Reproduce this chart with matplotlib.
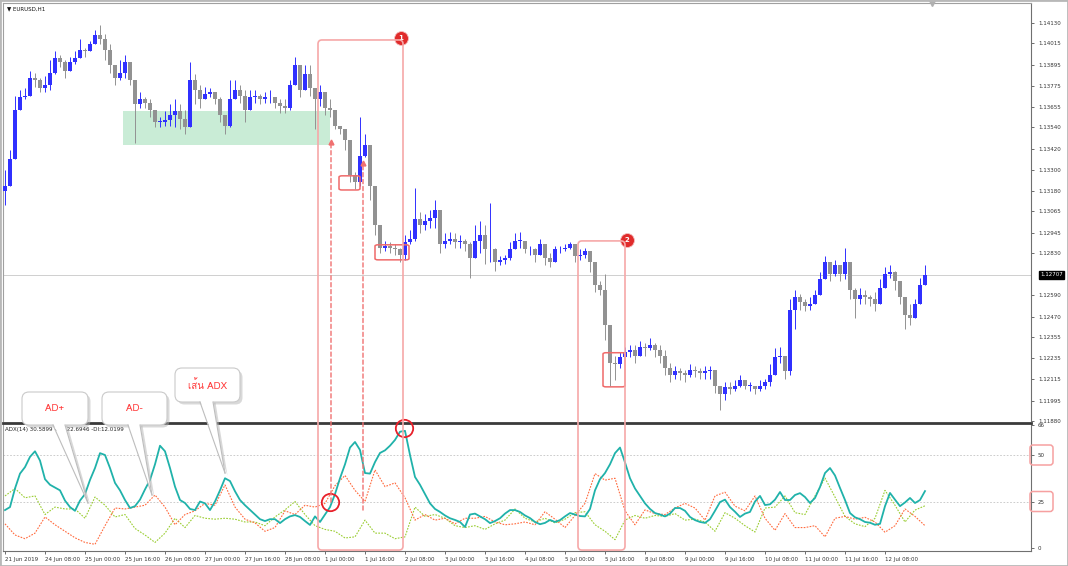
import numpy as np
import matplotlib
matplotlib.use('Agg')
import matplotlib.pyplot as plt
from matplotlib.patches import FancyBboxPatch, Polygon, Rectangle, ConnectionPatch
from matplotlib.lines import Line2D
from matplotlib.transforms import IdentityTransform, blended_transform_factory
from matplotlib import font_manager
from matplotlib.ft2font import FT2Font

# ---------------- data (EURUSD H1, sampled every 2 hours) ----------------
close = [1.1321, 1.1336, 1.1364, 1.1371, 1.1372, 1.1382, 1.1381, 1.1376, 1.1378, 1.1385,
         1.1393, 1.1391, 1.1386, 1.1391, 1.1393, 1.1398, 1.1397, 1.1401, 1.1406, 1.1404,
         1.1398, 1.1389, 1.1382, 1.1385, 1.1391, 1.1381, 1.1367, 1.1370, 1.1368, 1.1364,
         1.1357, 1.1357, 1.1358, 1.1361, 1.1363, 1.1359, 1.1354, 1.1381, 1.1375, 1.1370,
         1.1373, 1.1374, 1.1370, 1.1361, 1.1355, 1.1370, 1.1375, 1.1372, 1.1364, 1.1371,
         1.1372, 1.1370, 1.1371, 1.1371, 1.1368, 1.1366, 1.1365, 1.1378, 1.1389, 1.1375,
         1.1384, 1.1376, 1.1370, 1.1374, 1.1365, 1.1364, 1.1355, 1.1353, 1.1347, 1.1327,
         1.1323, 1.1338, 1.1344, 1.1321, 1.1299, 1.1286, 1.1287, 1.1286, 1.1285, 1.1282,
         1.1289, 1.1291, 1.1302, 1.1299, 1.1301, 1.1303, 1.1307, 1.1288, 1.1290, 1.1291,
         1.1289, 1.1290, 1.1288, 1.1280, 1.1290, 1.1293, 1.1285, 1.1285, 1.1278, 1.1279,
         1.1280, 1.1285, 1.1290, 1.1290, 1.1285, 1.1285, 1.1282, 1.1288, 1.1280, 1.1278,
         1.1285, 1.1285, 1.1286, 1.1288, 1.1281, 1.1282, 1.1284, 1.1278, 1.1265, 1.1262,
         1.1242, 1.1221, 1.1220, 1.1224, 1.1227, 1.1228, 1.1225, 1.1230, 1.1229, 1.1231,
         1.1228, 1.1225, 1.1218, 1.1214, 1.1216, 1.1215, 1.1214, 1.1217, 1.1216, 1.1215,
         1.1216, 1.1217, 1.1208, 1.1203, 1.1207, 1.1206, 1.1208, 1.1211, 1.1208, 1.1208,
         1.1206, 1.1208, 1.1210, 1.1214, 1.1224, 1.1225, 1.1216, 1.1251, 1.1258, 1.1255,
         1.1253, 1.1254, 1.1259, 1.1268, 1.1278, 1.1271, 1.1276, 1.1271, 1.1278, 1.1262,
         1.1257, 1.1259, 1.1258, 1.1257, 1.1254, 1.1263, 1.1271, 1.1272, 1.1267, 1.1258,
         1.1248, 1.1246, 1.1254, 1.1265, 1.12707]
high = [1.1330, 1.1341, 1.1372, 1.1375, 1.1376, 1.1386, 1.1385, 1.1382, 1.1383, 1.1392,
        1.1397, 1.1395, 1.1392, 1.1394, 1.1397, 1.1404, 1.1399, 1.1403, 1.1409, 1.1412,
        1.1407, 1.1401, 1.1388, 1.1392, 1.1395, 1.1391, 1.1378, 1.1374, 1.1371, 1.1370,
        1.1364, 1.1360, 1.1363, 1.1367, 1.1370, 1.1367, 1.1364, 1.1391, 1.1384, 1.1378,
        1.1377, 1.1376, 1.1374, 1.1371, 1.1361, 1.1381, 1.1381, 1.1378, 1.1375, 1.1375,
        1.1375, 1.1373, 1.1374, 1.1375, 1.1371, 1.1370, 1.1370, 1.1381, 1.1394, 1.1388,
        1.1389, 1.1389, 1.1376, 1.1378, 1.1371, 1.1370, 1.1361, 1.1355, 1.1351, 1.1347,
        1.1329, 1.1360, 1.1350, 1.1341, 1.1310, 1.1290, 1.1290, 1.1289, 1.1288, 1.1286,
        1.1293, 1.1296, 1.1320, 1.1306, 1.1305, 1.1307, 1.1313, 1.1299, 1.1294, 1.1295,
        1.1294, 1.1293, 1.1291, 1.1289, 1.1299, 1.1301, 1.1299, 1.1311, 1.1286, 1.1281,
        1.1282, 1.1289, 1.1294, 1.1295, 1.1287, 1.1287, 1.1286, 1.1291, 1.1285, 1.1283,
        1.1287, 1.1287, 1.1288, 1.1289, 1.1285, 1.1285, 1.1286, 1.1282, 1.1275, 1.1267,
        1.1271, 1.1234, 1.1225, 1.1227, 1.1230, 1.1231, 1.1231, 1.1233, 1.1232, 1.1235,
        1.1232, 1.1231, 1.1228, 1.1221, 1.1219, 1.1218, 1.1217, 1.1220, 1.1219, 1.1218,
        1.1219, 1.1219, 1.1214, 1.1207, 1.1210, 1.1210, 1.1211, 1.1214, 1.1211, 1.1210,
        1.1208, 1.1211, 1.1212, 1.1220, 1.1229, 1.1230, 1.1225, 1.1257, 1.1262, 1.1260,
        1.1257, 1.1258, 1.1262, 1.1272, 1.1281, 1.1276, 1.1279, 1.1276, 1.1286, 1.1276,
        1.1263, 1.1263, 1.1262, 1.1259, 1.1261, 1.1268, 1.1275, 1.1276, 1.1273, 1.1265,
        1.1257, 1.1254, 1.1257, 1.1269, 1.1276]
low = [1.1310, 1.1324, 1.1344, 1.1367, 1.1370, 1.1372, 1.1377, 1.1374, 1.1374, 1.1375,
       1.1384, 1.1388, 1.1382, 1.1388, 1.1390, 1.1393, 1.1394, 1.1397, 1.1401, 1.1401,
       1.1392, 1.1385, 1.1378, 1.1381, 1.1382, 1.1378, 1.1345, 1.1365, 1.1365, 1.1360,
       1.1354, 1.1354, 1.1355, 1.1355, 1.1354, 1.1353, 1.1350, 1.1364, 1.1367, 1.1365,
       1.1370, 1.1371, 1.1367, 1.1357, 1.1350, 1.1354, 1.1370, 1.1368, 1.1357, 1.1367,
       1.1368, 1.1367, 1.1368, 1.1368, 1.1365, 1.1362, 1.1362, 1.1364, 1.1381, 1.1371,
       1.1375, 1.1372, 1.1353, 1.1366, 1.1361, 1.1360, 1.1353, 1.1350, 1.1341, 1.1323,
       1.1319, 1.1321, 1.1337, 1.1313, 1.1293, 1.1283, 1.1284, 1.1283, 1.1282, 1.1278,
       1.1279, 1.1288, 1.1290, 1.1294, 1.1296, 1.1297, 1.1297, 1.1283, 1.1286, 1.1288,
       1.1286, 1.1286, 1.1284, 1.1269, 1.1282, 1.1283, 1.1277, 1.1278, 1.1273, 1.1276,
       1.1277, 1.1279, 1.1286, 1.1286, 1.1283, 1.1282, 1.1278, 1.1284, 1.1276, 1.1275,
       1.1282, 1.1283, 1.1284, 1.1285, 1.1278, 1.1279, 1.1280, 1.1272, 1.1261, 1.1259,
       1.1234, 1.1208, 1.1211, 1.1218, 1.1224, 1.1224, 1.1221, 1.1225, 1.1225, 1.1228,
       1.1224, 1.1221, 1.1214, 1.1210, 1.1212, 1.1211, 1.1210, 1.1213, 1.1213, 1.1212,
       1.1212, 1.1212, 1.1204, 1.1194, 1.1200, 1.1203, 1.1205, 1.1207, 1.1206, 1.1205,
       1.1203, 1.1205, 1.1206, 1.1208, 1.1220, 1.1221, 1.1212, 1.1214, 1.1240, 1.1251,
       1.1250, 1.1251, 1.1255, 1.1259, 1.1272, 1.1267, 1.1270, 1.1267, 1.1268, 1.1257,
       1.1246, 1.1254, 1.1254, 1.1253, 1.1250, 1.1257, 1.1265, 1.1269, 1.1262, 1.1254,
       1.1240, 1.1242, 1.1248, 1.1257, 1.1268]
first_open = 1.1318

# ADX(14) main line, every 2 hours
adx = [20.4, 22, 32, 40, 43.5, 49, 52, 47, 37, 34, 32.5, 31, 25.5, 22, 20, 25.5, 29, 36.6, 43, 51,
       50, 43, 35, 31, 25.8, 21.5, 22.5, 26, 31.5, 36.6, 45, 55, 52, 43, 33, 25.8, 24.2, 21, 20.4, 25,
       24, 20.4, 25, 31, 37.5, 36, 30.5, 25.8, 23, 20.5, 18, 15.5, 14.5, 15.5, 15.5, 13.4, 15.5, 17, 17.7, 16.7,
       14.5, 12.4, 17, 14, 18, 22, 29, 37.5, 45, 54, 57, 52.7, 40.3, 40, 46.2, 51.1, 52.5, 55, 58.1, 62.5,
       63, 50, 38.2, 34, 29, 24, 21, 19.4, 17.5, 16, 15.1, 14, 11.3, 18, 18.5, 17, 15.5, 13.4, 14.5, 16,
       18.5, 20.4, 20.4, 19.4, 17.5, 16.1, 14, 12.8, 13.5, 15.1, 14, 15, 17, 18.8, 18, 17.2, 17, 21, 31, 37,
       40.3, 45, 51, 54, 46, 37.5, 32, 28, 24, 21, 18.8, 18, 17, 18.5, 21.5, 21.5, 20, 16.7, 15, 14,
       13.5, 15.5, 20, 24.7, 26, 22, 19.5, 16.7, 18.5, 19.4, 25, 28, 23.1, 23.5, 26, 30.1, 25.8, 25.8, 28.5, 29.5,
       27.4, 24.2, 26.9, 32.8, 40.3, 43, 39, 32.3, 25.8, 18.8, 16.5, 15.5, 14, 13.6, 12.5, 13, 22.5, 29.6, 26, 22.5,
       24.5, 26.9, 24.2, 25.8, 30.6]
# +DI and -DI, every 4 hours
plus_di = [28, 32, 27, 28, 18, 22, 21, 21, 16, 27.4, 23, 16.7, 18, 10.5, 7, 3, 8, 16, 11, 17.5,
           16, 15.5, 16, 15.5, 14, 14, 12, 16.7, 20.5, 25, 18, 12, 10, 9, 5.4, 6, 15, 8, 8, 5,
           6, 22, 17, 18, 16, 12, 11, 12, 10, 13, 15, 21, 16, 14, 16, 13.5, 15.5, 19, 19.5, 12.5,
           9, 4.5, 15, 17.5, 16, 17.5, 17, 18.5, 15, 15.5, 14, 9, 19, 16, 12, 8.6, 21.5, 22, 28, 19,
           18, 28, 37.6, 27.4, 17, 13, 11.5, 16, 31, 23, 14, 20.4, 22.7]
minus_di = [13, 7, 5, 8, 16.7, 12.5, 9, 5.5, 3, 2, 12, 21.5, 21, 22, 23, 28.5, 22, 12.5, 18, 20,
            24, 23, 33.9, 22, 15.5, 13.5, 9, 11, 20, 18, 23, 22, 24, 33.5, 39, 31, 25, 42, 33, 35,
            27, 15, 18, 15, 16, 13, 16, 16, 17, 14, 12.5, 13, 14, 12.5, 19.5, 15.5, 11, 17.5, 24, 40,
            36.5, 37.5, 20, 12.5, 20.5, 18.5, 18, 21.5, 24, 21.5, 15, 28, 30, 22.5, 20, 28, 16, 9.5, 18.5, 11,
            11, 12, 6, 16, 17, 15.5, 16.5, 14, 8.5, 12, 21, 17, 12]

price_ticks = [1.14130, 1.14015, 1.13895, 1.13775, 1.13655, 1.13540, 1.13420, 1.13300, 1.13180,
               1.13065, 1.12945, 1.12830, 1.12590, 1.12470, 1.12355, 1.12235, 1.12115, 1.11995, 1.11880]
bid_price = 1.12707
adx_ticks = [0, 25, 50, 66]
time_labels = ['21 Jun 2019', '24 Jun 08:00', '25 Jun 00:00', '25 Jun 16:00', '26 Jun 08:00',
               '27 Jun 00:00', '27 Jun 16:00', '28 Jun 08:00', '1 Jul 00:00', '1 Jul 16:00',
               '2 Jul 08:00', '3 Jul 00:00', '3 Jul 16:00', '4 Jul 08:00', '5 Jul 00:00',
               '5 Jul 16:00', '8 Jul 08:00', '9 Jul 00:00', '9 Jul 16:00', '10 Jul 08:00',
               '11 Jul 00:00', '11 Jul 16:00', '12 Jul 08:00']
label_step_hours = 16

# ---------------- figure ----------------
W, H = 1068, 566
fig = plt.figure(figsize=(W / 100, H / 100), dpi=100)
fig.patch.set_facecolor('white')
plt.rcParams['font.family'] = ['DejaVu Sans']

ax = fig.add_axes([3 / W, 1 - 421 / H, 1028 / W, 418 / H])
ax2 = fig.add_axes([3 / W, 1 - 551 / H, 1028 / W, 128 / H], sharex=ax)

close = np.array(close)
high = np.array(high)
low = np.array(low)
opn = np.concatenate([[first_open], close[:-1]])
hours = np.arange(len(close)) * 2.0
hours_di = np.arange(len(plus_di)) * 4.0

up = close >= opn
col = np.where(up, '#3030ff', '#929292')
hi = np.maximum(high, np.maximum(opn, close))
lo = np.minimum(low, np.minimum(opn, close))

# green zone
ax.add_patch(Rectangle((47.2, 1.13441), 82.8, 0.00192, facecolor='#c9ecd6', edgecolor='none', zorder=1))
ax.vlines(hours, lo, hi, colors=col, lw=0.7, zorder=3)
body_h = np.maximum(np.abs(close - opn), 0.00004)
ax.bar(hours, body_h, bottom=np.minimum(opn, close), width=1.5, color=col, edgecolor='none', zorder=4)
ax.axhline(bid_price, color='#cfcfcf', lw=0.7, zorder=2)

ax.set_xlim(-0.8, 410.4)
ax.set_ylim(1.11880, 1.14243)
ax.yaxis.tick_right()
ax.set_yticks(price_ticks)
ax.set_yticklabels(['%.5f' % v for v in price_ticks])
ax.tick_params(axis='y', labelsize=4, length=2, pad=3, colors='#333333', width=0.5)
ax.tick_params(axis='x', labelbottom=False, length=0)
for s in ['left', 'top']:
    ax.spines[s].set_color('#a0a0a0')
    ax.spines[s].set_linewidth(0.8)
ax.spines['right'].set_color('#707070')
ax.spines['right'].set_linewidth(0.8)
ax.spines['bottom'].set_visible(False)

bt = blended_transform_factory(ax.transAxes, ax.transData)
ax.text(1.0 + 9 / 1028, bid_price, '%.5f' % bid_price, transform=bt, fontsize=4, color='white',
        va='center', ha='left', bbox=dict(boxstyle='square,pad=0.25', fc='black', ec='black'), zorder=10)
ax.text(0.004, 0.993, '\u25bc EURUSD,H1', transform=ax.transAxes, fontsize=4, va='top', ha='left', color='#111111')
ax.plot([370.8], [1.0], transform=blended_transform_factory(ax.transData, ax.transAxes), marker='v',
        color='#b0b0b0', ms=4, clip_on=False, zorder=6)

# ADX panel
ax2.axhline(50, color='#c4c4c4', lw=0.6, ls=(0, (2, 2)))
ax2.axhline(25, color='#c4c4c4', lw=0.6, ls=(0, (2, 2)))
ax2.plot(hours_di, plus_di, color='#9acd32', lw=0.8, ls=(0, (1.5, 1.2)))
ax2.plot(hours_di, minus_di, color='#ff6a3d', lw=0.8, ls=(0, (1.5, 1.2)))
ax2.plot(hours, adx, color='#20b2aa', lw=1.3)
ax2.set_ylim(-1.6, 67.2)
ax2.yaxis.tick_right()
ax2.set_yticks(adx_ticks)
ax2.set_yticklabels([str(v) for v in adx_ticks])
ax2.tick_params(axis='y', labelsize=4, length=2, pad=3, colors='#333333', width=0.5)
xt = np.arange(len(time_labels)) * label_step_hours
ax2.set_xticks(xt)
ax2.set_xticklabels(time_labels, ha='left')
ax2.tick_params(axis='x', labelsize=4, length=2.5, pad=1.5, colors='#333333', width=0.5)
ax2.spines['left'].set_color('#a0a0a0')
ax2.spines['right'].set_color('#707070')
ax2.spines['bottom'].set_color('#707070')
ax2.spines['top'].set_color('#3a3a3a')
ax2.spines['top'].set_linewidth(2.0)
ax2.text(0.002, 0.965, 'ADX(14) 30.5899 +DI:22.6946 -DI:12.0199', transform=ax2.transAxes,
         fontsize=4, va='top', ha='left', color='#222222')

# ---------------- annotations ----------------
ID = IdentityTransform()


def dpix(axis, x, y):
    return axis.transData.transform((x, y))


def span_box(h0, h1, ptop, vbot, ec, lw, rs):
    x0, y1 = dpix(ax, h0, ptop)
    x1, y0 = dpix(ax2, h1, vbot)
    fig.add_artist(FancyBboxPatch((x0, y0), x1 - x0, y1 - y0, boxstyle='round,pad=0,rounding_size=%d' % rs,
                                  transform=ID, fc='none', ec=ec, lw=lw, zorder=5))


span_box(125.2, 159.2, 1.14034, -1.1, '#f6a8a8', 1.2, 4)
span_box(229.2, 248.0, 1.12898, -1.1, '#f6a8a8', 1.2, 4)

for (h0, h1, p0, p1) in [(133.6, 142.0, 1.13186, 1.13266), (148.0, 161.6, 1.12791, 1.12876),
                         (239.2, 248.0, 1.12073, 1.12266)]:
    ax.add_patch(FancyBboxPatch((h0, p0), h1 - h0, p1 - p0, boxstyle='round,pad=0,rounding_size=1.2',
                                mutation_aspect=0.00006, fc='none', ec='#ef6a6a', lw=1.1, zorder=6))

# badges
for (h, p, t) in [(158.4, 1.14045, '1'), (248.8, 1.12904, '2')]:
    ax.plot([h], [p], marker='o', ms=10, color='#e02b2b', mec='#f4c0c0', mew=0.6, clip_on=False, zorder=8)
    ax.text(h, p, t, color='white', fontsize=5, ha='center', va='center', fontweight='bold', zorder=9)

# red circles on ADX
for (h, v, ms) in [(130.0, 24.7, 12.5), (159.6, 64.5, 12.5)]:
    ax2.plot([h], [v], marker='o', ms=ms, mfc='none', mec='#e8202a', mew=1.3, clip_on=False, zorder=8)

# dashed arrows from ADX crossings up to price
for (h, v, p) in [(130.4, 24.7, 1.13458), (143.2, 20.4, 1.13339)]:
    con = ConnectionPatch(xyA=(h, v), coordsA=ax2.transData, xyB=(h, p), coordsB=ax.transData,
                          color='#f07070', lw=1.0, ls=(0, (3, 2)), zorder=6)
    fig.add_artist(con)
    ax.plot([h], [p], marker='^', color='#f07070', ms=3.5, zorder=7, clip_on=False)

# pink boxes around 50 and 25 labels
xr = ax2.transAxes.transform((1.0, 0))[0]
for v in [50, 25]:
    yc = dpix(ax2, 0, v)[1]
    fig.add_artist(FancyBboxPatch((xr - 1, yc - 10), 23, 20, boxstyle='round,pad=0,rounding_size=3',
                                  transform=ID, fc='none', ec='#f6a0a0', lw=1.1, zorder=6))

# Thai-capable font search
thai_family = None
for f in font_manager.fontManager.ttflist:
    try:
        ft = FT2Font(f.fname)
        if ft.get_char_index(ord('\u0e40')) and ft.get_char_index(ord('\u0e19')):
            thai_family = f.name
            break
    except Exception:
        pass
callout_family = [thai_family, 'DejaVu Sans'] if thai_family else ['DejaVu Sans']


def bubble(x0, y0, x1, y1, bx0, bx1, tip, text):
    # box given in pixel coordinates measured from the top-left of the image
    tx, ty = tip
    for dx, dy, fc, ec, zo, al in [(2.5, -2.5, '#b4b4b4', 'none', 9, 0.5), (0, 0, 'white', '#cacaca', 10, 1)]:
        box = FancyBboxPatch((x0 + dx, H - y1 + dy), x1 - x0, y1 - y0,
                             boxstyle='round,pad=0,rounding_size=7', transform=ID,
                             fc=fc, ec=ec, lw=0.8, zorder=zo, alpha=al)
        fig.add_artist(box)
        tail = Polygon([(bx0 + dx, H - y1 + 2 + dy), (tx + dx, ty + dy), (bx1 + dx, H - y1 + 2 + dy)],
                       closed=True, transform=ID, fc=fc, ec='none', zorder=zo + 0.5, alpha=al)
        fig.add_artist(tail)
    for bx in (bx0, bx1):
        fig.add_artist(Line2D([bx, tx], [H - y1, ty], transform=ID, color='#bdbdbd', lw=0.8, zorder=11))
    fig.text((x0 + x1) / 2 / W, 1 - (y0 + y1) / 2 / H, text, ha='center', va='center', fontsize=7,
             color='#ff3b3b', family=callout_family, zorder=12)


bubble(22, 392, 88, 425, 53, 65, dpix(ax2, 33.2, 24.2), 'AD+')
bubble(102, 392, 167, 425, 128, 140, dpix(ax2, 58.8, 28.5), 'AD-')
bubble(175, 368, 240, 402, 200, 213, dpix(ax2, 88.0, 40.3), '\u0e40\u0e2a\u0e49\u0e19 ADX')

fig.add_artist(Rectangle((0, 0), 1, 1, transform=fig.transFigure, fill=False, ec='#b8b8b8', lw=2, zorder=20))

fig.savefig('out.png', dpi=100, facecolor='white')
